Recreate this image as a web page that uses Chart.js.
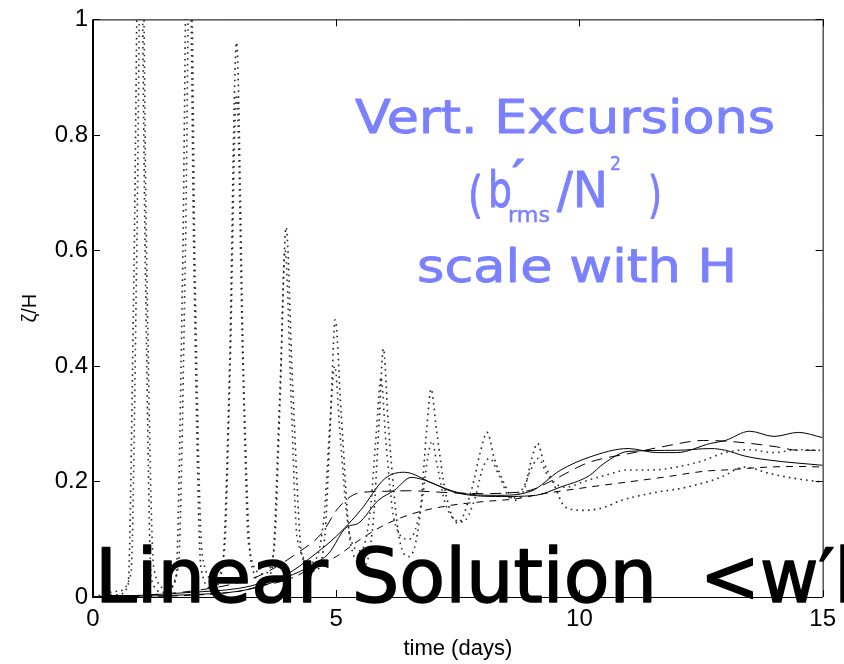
<!DOCTYPE html>
<html><head><meta charset="utf-8">
<script src="https://cdn.jsdelivr.net/npm/chart.js@4.4.1/dist/chart.umd.min.js"></script>
<style>html,body{margin:0;padding:0;background:#fff;overflow:hidden}canvas{display:block}</style>
</head><body>
<canvas id="c" width="844" height="664" style="width:844px;height:664px"></canvas>
<script>
// ---- data ----
const xTickValues = [0, 5, 10, 15];
const xTickLabels = ['0', '5', '10', '15'];
const yTickValues = [0, 0.2, 0.4, 0.6, 0.8, 1];
const yTickLabels = ['0', '0.2', '0.4', '0.6', '0.8', '1'];

const tSolA = [0, 1, 2, 3, 3.5, 4, 4.5, 5, 5.5, 6, 6.4, 7, 7.5, 8.3, 9, 9.6, 10.2, 11, 11.6, 12, 12.7, 13, 13.5, 14, 14.5, 15];
const vSolA = [0, 0.003, 0.008, 0.015, 0.025, 0.04, 0.07, 0.105, 0.15, 0.205, 0.216, 0.196, 0.181, 0.176, 0.183, 0.219, 0.242, 0.257, 0.25, 0.25, 0.266, 0.271, 0.287, 0.278, 0.285, 0.276];

const tSolB = [0, 2, 3, 3.5, 4, 4.5, 4.85, 5.2, 5.46, 5.86, 6.2, 6.54, 6.83, 7.44, 8.4, 9.1, 9.6, 10.2, 10.5, 11, 12, 12.7, 13, 13.4, 13.9, 15];
const vSolB = [0, 0.004, 0.01, 0.02, 0.035, 0.055, 0.076, 0.12, 0.128, 0.167, 0.185, 0.207, 0.202, 0.181, 0.174, 0.176, 0.19, 0.21, 0.231, 0.252, 0.254, 0.257, 0.254, 0.244, 0.237, 0.228];

const tDashA = [0, 1, 2, 3, 3.5, 4.2, 4.7, 5.05, 5.46, 6, 6.5, 7, 7.5, 8, 8.5, 9, 9.4, 10.16, 10.5, 11, 11.7, 12.55, 12.97, 13.5, 14.05, 14.5, 15];
const vDashA = [0, 0.003, 0.01, 0.025, 0.04, 0.076, 0.11, 0.155, 0.18, 0.183, 0.184, 0.182, 0.18, 0.179, 0.18, 0.185, 0.2, 0.232, 0.24, 0.248, 0.26, 0.271, 0.27, 0.266, 0.26, 0.254, 0.254];

const tDashB = [0, 2, 3, 3.5, 4, 4.5, 5, 5.5, 6, 6.6, 7.3, 8, 8.7, 9.2, 10, 10.8, 11.7, 12.6, 13, 13.9, 14.5, 15];
const vDashB = [0, 0.003, 0.01, 0.02, 0.03, 0.05, 0.07, 0.1, 0.125, 0.145, 0.158, 0.165, 0.17, 0.178, 0.188, 0.197, 0.207, 0.218, 0.22, 0.225, 0.226, 0.225];

const tDotA = [0, 0.5, 0.72, 0.84, 0.96, 1.08, 1.2, 1.45, 1.7, 1.84, 1.96, 2.08, 2.22, 2.45, 2.66, 2.8, 2.95, 3.1, 3.25, 3.5, 3.68, 3.85, 3.97, 4.1, 4.3, 4.55, 4.76, 4.88, 4.98, 5.1, 5.3, 5.58, 5.76, 5.88, 5.97, 6.07, 6.3, 6.5, 6.72, 6.86, 6.95, 7.06, 7.25, 7.5, 7.78, 7.96, 8.1, 8.25, 8.45, 8.67, 8.88, 9.02, 9.14, 9.26, 9.45, 9.72, 10.1, 10.5, 10.85, 11.5, 12.2, 12.9, 13.4, 13.9, 14.45, 15];
const vDotA = [0, 0.004, 0.02, 0.55, 1.3, 0.55, 0.03, 0.008, 0.03, 0.55, 1.3, 0.55, 0.05, 0.015, 0.05, 0.37, 0.96, 0.37, 0.06, 0.025, 0.05, 0.375, 0.64, 0.375, 0.07, 0.045, 0.1, 0.3, 0.48, 0.32, 0.09, 0.055, 0.13, 0.3, 0.43, 0.3, 0.1, 0.07, 0.14, 0.29, 0.36, 0.29, 0.18, 0.128, 0.185, 0.25, 0.285, 0.24, 0.197, 0.167, 0.19, 0.24, 0.266, 0.235, 0.2, 0.155, 0.15, 0.155, 0.167, 0.18, 0.19, 0.207, 0.225, 0.214, 0.205, 0.199];

const tDotB = [0, 0.5, 0.78, 0.9, 1.0, 1.1, 1.25, 1.5, 1.75, 1.9, 2.0, 2.1, 2.25, 2.5, 2.7, 2.82, 2.95, 3.08, 3.2, 3.5, 3.72, 3.85, 3.95, 4.07, 4.2, 4.5, 4.75, 4.87, 4.97, 5.08, 5.25, 5.5, 5.7, 5.82, 5.92, 6.02, 6.2, 6.5, 6.75, 6.88, 6.97, 7.07, 7.25, 7.6, 7.85, 8.0, 8.15, 8.35, 8.6, 8.85, 9.0, 9.15, 9.35, 9.7, 10.1, 10.5, 11, 11.5, 12, 12.5, 13, 13.5, 14, 14.5, 15];
const vDotB = [0, 0.01, 0.04, 0.6, 1.25, 0.6, 0.05, 0.015, 0.05, 0.6, 1.2, 0.55, 0.07, 0.03, 0.08, 0.4, 0.87, 0.4, 0.09, 0.04, 0.08, 0.35, 0.6, 0.35, 0.1, 0.06, 0.14, 0.3, 0.4, 0.28, 0.12, 0.08, 0.15, 0.28, 0.38, 0.27, 0.13, 0.1, 0.16, 0.24, 0.27, 0.23, 0.16, 0.13, 0.17, 0.22, 0.24, 0.21, 0.17, 0.19, 0.22, 0.24, 0.21, 0.19, 0.2, 0.21, 0.22, 0.22, 0.225, 0.235, 0.25, 0.255, 0.25, 0.255, 0.254];

// ---- build ----
const pts = (t, v) => t.map((x, i) => ({x, y: v[i]}));
function ds(t, v, dash, width, color) {
  return {data: pts(t, v), borderColor: color, borderWidth: width, borderDash: dash,
    pointRadius: 0, fill: false, cubicInterpolationMode: 'monotone'};
}
const datasets = [
  ds(tDotA, vDotA, [1.6, 4.2], 1.6, '#222'),
  ds(tDotB, vDotB, [1.6, 4.2], 1.6, '#333'),
  ds(tDashB, vDashB, [7, 6], 1, '#000'),
  ds(tDashA, vDashA, [11, 7], 1, '#000'),
  ds(tSolB, vSolB, [], 1, '#000'),
  ds(tSolA, vSolA, [], 1, '#000')
];

const SANS = '"Liberation Sans", Arial, Helvetica, sans-serif';
const FUN = '"DejaVu Sans", "Noto Sans", sans-serif';

function fitText(ctx, text, x0, x1, baseline, size, family, color, thick) {
  ctx.save();
  ctx.font = size + 'px ' + family;
  ctx.fillStyle = color;
  ctx.strokeStyle = color;
  ctx.lineJoin = 'round';
  ctx.lineCap = 'round';
  ctx.textBaseline = 'alphabetic';
  ctx.textAlign = 'left';
  const w = ctx.measureText(text).width;
  ctx.translate(x0, baseline);
  ctx.scale((x1 - x0) / w, 1);
  ctx.fillText(text, 0, 0);
  if (thick) { ctx.lineWidth = thick; ctx.strokeText(text, 0, 0); }
  ctx.restore();
}

const framePlugin = {
  id: 'frame',
  afterDatasetsDraw(chart) {
    const {ctx, chartArea: a, scales} = chart;
    ctx.save();
    ctx.strokeStyle = '#000';
    ctx.lineWidth = 1;
    ctx.beginPath();
    ctx.moveTo(a.left, a.top + 0.5); ctx.lineTo(a.right, a.top + 0.5);
    ctx.moveTo(a.right + 0.5, a.top); ctx.lineTo(a.right + 0.5, a.bottom);
    ctx.moveTo(a.left, a.bottom + 0.5); ctx.lineTo(a.right, a.bottom + 0.5);
    ctx.stroke();
    ctx.lineWidth = 2;
    ctx.beginPath();
    ctx.moveTo(a.left, a.top); ctx.lineTo(a.left, a.bottom + 1);
    ctx.stroke();
    ctx.lineWidth = 1;
    ctx.beginPath();
    yTickValues.forEach(v => {
      const y = Math.round(scales.y.getPixelForValue(v)) + 0.5;
      ctx.moveTo(a.left, y); ctx.lineTo(a.left + 7, y);
      ctx.moveTo(a.right, y); ctx.lineTo(a.right - 7, y);
    });
    xTickValues.forEach(v => {
      const x = Math.round(scales.x.getPixelForValue(v)) + 0.5;
      ctx.moveTo(x, a.bottom); ctx.lineTo(x, a.bottom - 7);
      ctx.moveTo(x, a.top); ctx.lineTo(x, a.top + 7);
    });
    ctx.stroke();
    ctx.restore();
  },
  afterDraw(chart) {
    const ctx = chart.ctx;
    const blue = '#7b80ff';
    // blue annotation
    fitText(ctx, 'Vert. Excursions', 355, 775, 133, 46, FUN, blue, 0.9);
    fitText(ctx, '(', 468, 483, 212, 50, FUN, blue, 0.9);
    fitText(ctx, 'b', 488, 512, 207, 50, FUN, blue, 0.9);
    fitText(ctx, '\u2032', 512, 525, 192, 44, FUN, blue, 1.2);
    fitText(ctx, 'rms', 508, 550, 222, 22, FUN, blue, 0.5);
    fitText(ctx, '/N', 557, 608, 207, 50, FUN, blue, 0.9);
    fitText(ctx, '2', 610, 621, 170, 20, FUN, blue, 0.5);
    fitText(ctx, ')', 648, 662, 212, 50, FUN, blue, 0.9);
    fitText(ctx, 'scale with H', 417, 737, 282, 46, FUN, blue, 0.9);
    // black annotation
    fitText(ctx, 'Linear Solution', 95, 657, 602, 74, FUN, '#000', 1.5);
    fitText(ctx, '<w\u2032b', 700, 880, 602, 74, FUN, '#000', 1.5);
  }
};

new Chart(document.getElementById('c'), {
  type: 'line',
  data: {datasets},
  plugins: [framePlugin],
  options: {
    responsive: false,
    animation: false,
    devicePixelRatio: 1,
    layout: {padding: {top: 18, right: 17, left: 0, bottom: 0}},
    plugins: {legend: {display: false}, tooltip: {enabled: false}},
    scales: {
      x: {
        type: 'linear', min: 0, max: 15,
        afterBuildTicks: s => { s.ticks = xTickValues.map(v => ({value: v})); },
        afterFit: s => { s.height = 67; },
        grid: {display: false, drawTicks: false},
        border: {display: false},
        ticks: {padding: 8, color: '#000', font: {family: SANS, size: 24},
          callback: v => xTickLabels[xTickValues.indexOf(v)]},
        title: {display: true, text: 'time (days)', color: '#000',
          font: {family: SANS, size: 22}, padding: {top: 0, bottom: 2}}
      },
      y: {
        type: 'linear', min: 0, max: 1,
        afterBuildTicks: s => { s.ticks = yTickValues.map(v => ({value: v})); },
        afterFit: s => { s.width = 93; },
        grid: {display: false, drawTicks: false},
        border: {display: false},
        ticks: {padding: 5, color: '#000', font: {family: SANS, size: 24},
          callback: v => yTickLabels[yTickValues.findIndex(t => Math.abs(t - v) < 1e-9)]},
        title: {display: true, text: '\u03B6/H', color: '#000',
          font: {family: SANS, size: 20}, padding: {top: 18, bottom: 0}}
      }
    }
  }
});
</script>
</body></html>
